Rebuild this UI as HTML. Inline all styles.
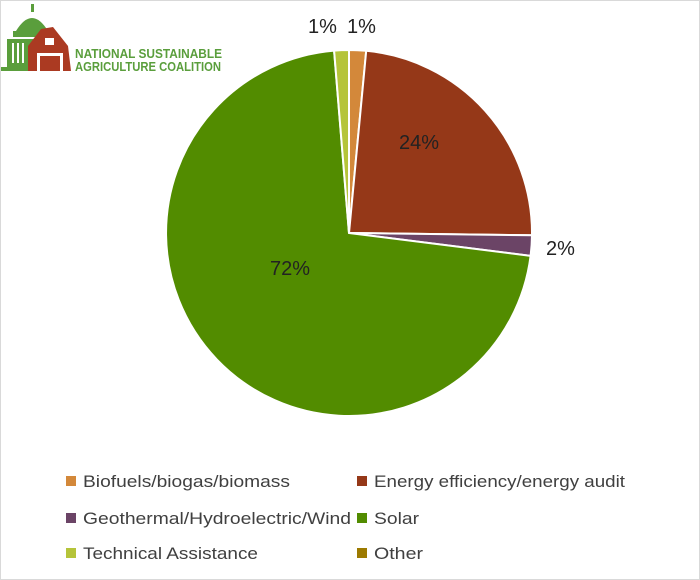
<!DOCTYPE html>
<html><head><meta charset="utf-8"><style>
body{margin:0;background:#fff;}
.c{position:relative;width:698px;height:578px;border:1px solid #d9d9d9;overflow:hidden;font-family:"Liberation Sans",sans-serif;}
</style></head><body><div class="c">
<svg width="698" height="578" style="position:absolute;left:0;top:0">
<g stroke="#fff" stroke-width="2" stroke-linejoin="round">
<path d="M348,232 L348,49 A183,183 0 0 1 365.2,49.8 Z" fill="#d3883a"/>
<path d="M348,232 L365.2,49.8 A183,183 0 0 1 531,234.3 Z" fill="#953818"/>
<path d="M348,232 L531,234.3 A183,183 0 0 1 529.6,254.9 Z" fill="#6b4466"/>
<path d="M348,232 L529.6,254.9 A183,183 0 1 1 333.1,49.6 Z" fill="#528c00"/>
<path d="M348,232 L333.1,49.6 A183,183 0 0 1 348,49 Z" fill="#b5c43a"/>
</g>
<g font-family="Liberation Sans,sans-serif" font-size="20" fill="#222">
<text x="307" y="32">1%</text><text x="346" y="32">1%</text>
<text x="398" y="148">24%</text>
<text x="545" y="254">2%</text>
<text x="269" y="274">72%</text>
</g>
<!-- logo -->
<g>
<rect x="30" y="3" width="3" height="8" fill="#5a9e3c"/>
<path d="M15,30 Q31,4 47,30 Z" fill="#5a9e3c"/>
<rect x="12" y="30" width="38" height="6" fill="#5a9e3c"/>
<rect x="6" y="38" width="42" height="30" fill="#5a9e3c"/>
<g fill="#fff"><rect x="11" y="42" width="2" height="20"/><rect x="16" y="42" width="2" height="20"/><rect x="21" y="42" width="2" height="20"/></g>
<rect x="0" y="66" width="30" height="4" fill="#5a9e3c"/>
<path d="M27,70 L27,45 L40,28 L52,26 L67,45 L70,70 Z" fill="#ab3a22"/>
<rect x="44" y="37" width="9" height="7" fill="#fff"/>
<rect x="36" y="52" width="26" height="18" fill="#fff"/>
<rect x="39" y="55" width="20" height="15" fill="#ab3a22"/>
<text x="74" y="57" font-family="Liberation Sans,sans-serif" font-weight="bold" font-size="12.5" fill="#5a9e3c" textLength="147" lengthAdjust="spacingAndGlyphs">NATIONAL SUSTAINABLE</text>
<text x="74" y="70" font-family="Liberation Sans,sans-serif" font-weight="bold" font-size="12.5" fill="#5a9e3c" textLength="146" lengthAdjust="spacingAndGlyphs">AGRICULTURE COALITION</text>
</g>
<g font-family="Liberation Sans,sans-serif" font-size="17" fill="#404040">
<rect x="65" y="475" width="10" height="10" fill="#d3883a"/>
<text x="82" y="486" textLength="207" lengthAdjust="spacingAndGlyphs">Biofuels/biogas/biomass</text>
<rect x="356" y="475" width="10" height="10" fill="#953818"/>
<text x="373" y="486" textLength="251" lengthAdjust="spacingAndGlyphs">Energy efficiency/energy audit</text>
<rect x="65" y="512" width="10" height="10" fill="#6b4466"/>
<text x="82" y="523" textLength="268" lengthAdjust="spacingAndGlyphs">Geothermal/Hydroelectric/Wind</text>
<rect x="356" y="512" width="10" height="10" fill="#528c00"/>
<text x="373" y="523" textLength="45" lengthAdjust="spacingAndGlyphs">Solar</text>
<rect x="65" y="547" width="10" height="10" fill="#b5c43a"/>
<text x="82" y="558" textLength="175" lengthAdjust="spacingAndGlyphs">Technical Assistance</text>
<rect x="356" y="547" width="10" height="10" fill="#9c7a00"/>
<text x="373" y="558" textLength="49" lengthAdjust="spacingAndGlyphs">Other</text>
</g>
</svg>
</div></body></html>
